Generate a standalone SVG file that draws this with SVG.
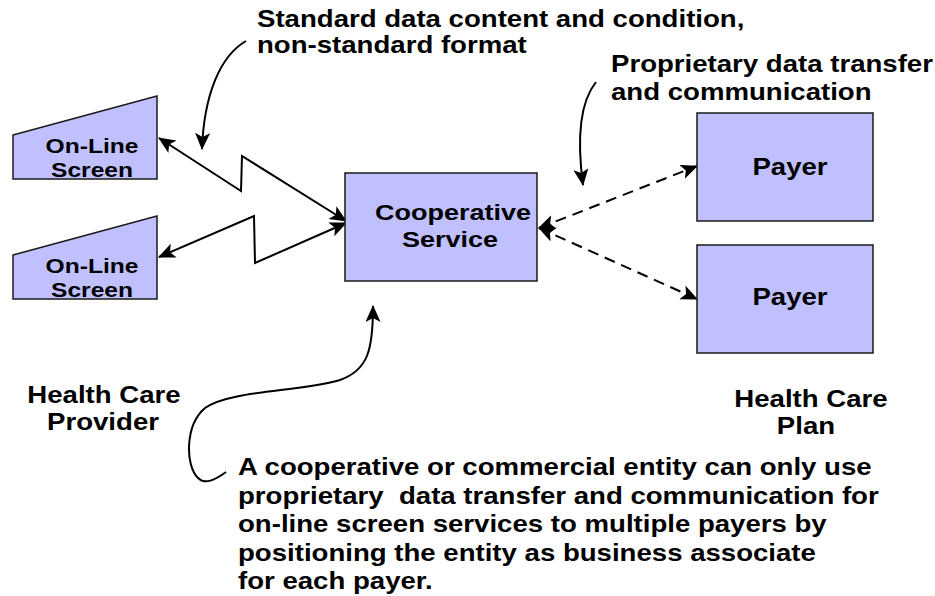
<svg xmlns="http://www.w3.org/2000/svg" width="935" height="596" viewBox="0 0 935 596">
<style>
  .box { fill: #C0C0FF; stroke: #1a1a1a; stroke-width: 1.5; }
  .t { font-family: "Liberation Sans", Arial, sans-serif; font-weight: bold; font-size: 23px; fill: #000; }
  .s { font-size: 20.5px; }
  .m { text-anchor: middle; }
  .ln { fill: none; stroke: #000; stroke-width: 2; }
  .dash { stroke-dasharray: 11 7; }
</style>
<defs>
  <marker id="ah" markerUnits="userSpaceOnUse" markerWidth="18" markerHeight="16" refX="16" refY="7.5" orient="auto-start-reverse">
    <path d="M0,0 L17,7.5 L0,15 L4,7.5 Z" fill="#000"/>
  </marker>
</defs>

<g id="connectors">
  <polyline class="ln" points="159,138 241,191 242,156 346,221" marker-start="url(#ah)" marker-end="url(#ah)"/>
  <polyline class="ln" points="159,257 254,216 255,263 346,223" marker-start="url(#ah)" marker-end="url(#ah)"/>
  <line class="ln dash" x1="539" y1="228" x2="697" y2="166" marker-start="url(#ah)" marker-end="url(#ah)"/>
  <line class="ln dash" x1="539" y1="228" x2="697" y2="299" marker-start="url(#ah)" marker-end="url(#ah)"/>
  <path class="ln" d="M246,41 C220,56 204,95 202,149" marker-end="url(#ah)"/>
  <path class="ln" d="M596,82 C580,102 577,140 583,185" marker-end="url(#ah)"/>
  <path class="ln" d="M226,472 C215,480 205,485 198,478 C185,465 185,425 205,408 C230,390 300,392 340,380 C368,370 373,350 373,306" marker-end="url(#ah)"/>
</g>

<g id="screen1">
  <polygon class="box" points="13,135 157,96 157,179 13,179"/>
  <text class="t s m" transform="translate(92,153) scale(1.2,1)">On-Line</text>
  <text class="t s m" transform="translate(92,177) scale(1.2,1)">Screen</text>
</g>
<g id="screen2">
  <polygon class="box" points="13,255 157,216 157,299 13,299"/>
  <text class="t s m" transform="translate(92,273) scale(1.2,1)">On-Line</text>
  <text class="t s m" transform="translate(92,297) scale(1.2,1)">Screen</text>
</g>
<g id="cooperative">
  <rect class="box" x="345" y="173" width="192" height="108"/>
  <text class="t m" style="font-size:22.5px" transform="translate(453,220) scale(1.2,1)">Cooperative</text>
  <text class="t m" style="font-size:22.5px" transform="translate(450,247) scale(1.2,1)">Service</text>
</g>
<g id="payer1">
  <rect class="box" x="697" y="113" width="176" height="108"/>
  <text class="t m" transform="translate(790,175) scale(1.2,1)">Payer</text>
</g>
<g id="payer2">
  <rect class="box" x="697" y="245" width="176" height="108"/>
  <text class="t m" transform="translate(790,305) scale(1.2,1)">Payer</text>
</g>

<g id="label-standard">
  <text class="t" transform="translate(257,27) scale(1.2,1)">Standard data content and condition,</text>
  <text class="t" transform="translate(257,53) scale(1.2,1)">non-standard format</text>
</g>
<g id="label-proprietary">
  <text class="t" transform="translate(611,72) scale(1.2,1)">Proprietary data transfer</text>
  <text class="t" transform="translate(611,100) scale(1.2,1)">and communication</text>
</g>
<g id="label-provider">
  <text class="t m" transform="translate(104,403) scale(1.2,1)">Health Care</text>
  <text class="t m" transform="translate(103,430) scale(1.2,1)">Provider</text>
</g>
<g id="label-plan">
  <text class="t m" transform="translate(811,407) scale(1.2,1)">Health Care</text>
  <text class="t m" transform="translate(806,434) scale(1.2,1)">Plan</text>
</g>
<g id="label-note">
  <text class="t" transform="translate(238,475) scale(1.2,1)">A cooperative or commercial entity can only use</text>
  <text class="t" style="white-space:pre" transform="translate(238,504) scale(1.2,1)">proprietary  data transfer and communication for</text>
  <text class="t" transform="translate(238,532) scale(1.2,1)">on-line screen services to multiple payers by</text>
  <text class="t" transform="translate(238,561) scale(1.2,1)">positioning the entity as business associate</text>
  <text class="t" transform="translate(238,589) scale(1.2,1)">for each payer.</text>
</g>
</svg>
